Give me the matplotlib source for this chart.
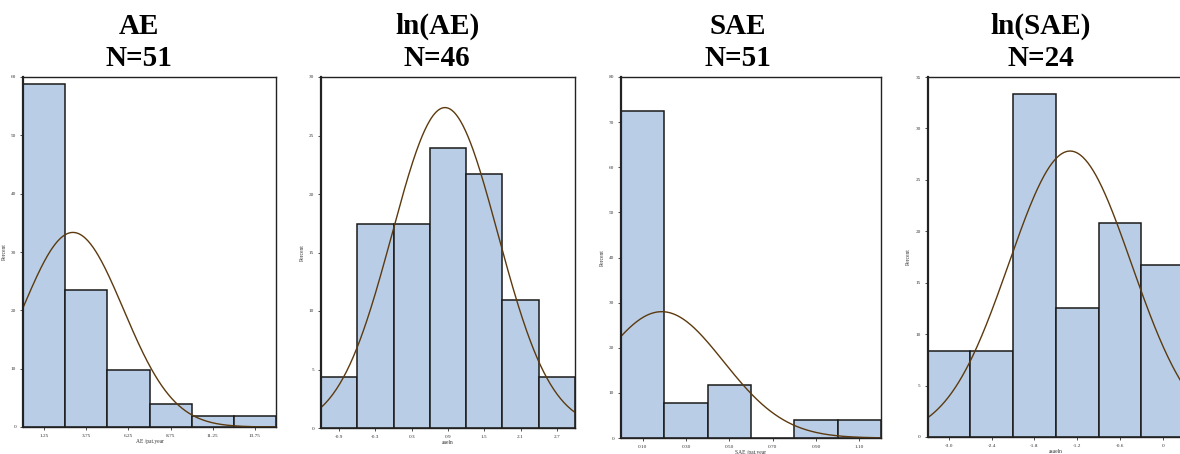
import numpy as np
import matplotlib.pyplot as plt

plt.rcParams["font.family"] = ["Liberation Serif", "DejaVu Serif"]

titles = ["AE\nN=51", "ln(AE)\nN=46", "SAE\nN=51", "ln(SAE)\nN=24"]
xlabels = ["AE /pat.year", "aaeln", "SAE /pat.year", "asaeln"]

# bin midpoints and percent of subjects in each bin
ae_mid = [1.25, 3.75, 6.25, 8.75, 11.25, 13.75]
ae_pct = [58.8, 23.5, 9.8, 3.9, 1.96, 1.96]

lnae_mid = [-0.9, -0.3, 0.3, 0.9, 1.5, 2.1, 2.7]
lnae_pct = [4.35, 17.4, 17.4, 23.9, 21.7, 10.9, 4.35]

sae_mid = [0.10, 0.30, 0.50, 0.70, 0.90, 1.10]
sae_pct = [72.5, 7.8, 11.8, 0.0, 3.9, 3.9]

lnsae_mid = [-3.0, -2.4, -1.8, -1.2, -0.6, 0.0]
lnsae_pct = [8.33, 8.33, 33.3, 12.5, 20.8, 16.7]

ae_ticks = ["1.25", "3.75", "6.25", "8.75", "11.25", "13.75"]
lnae_ticks = ["-0.9", "-0.3", "0.3", "0.9", "1.5", "2.1", "2.7"]
sae_ticks = ["0.10", "0.30", "0.50", "0.70", "0.90", "1.10"]
lnsae_ticks = ["-3.0", "-2.4", "-1.8", "-1.2", "-0.6", "0"]

# fitted normal curve (mean, std)
normal_fit = [(2.96, 2.99), (0.85, 0.874), (0.188, 0.285), (-1.3, 0.861)]

bin_width = [2.5, 0.6, 0.2, 0.6]
y_max = [60, 30, 80, 35]
y_step = [10, 5, 10, 5]

mids = [ae_mid, lnae_mid, sae_mid, lnsae_mid]
pcts = [ae_pct, lnae_pct, sae_pct, lnsae_pct]
ticklabels = [ae_ticks, lnae_ticks, sae_ticks, lnsae_ticks]

W, H = 1180, 454

# axes boxes in pixels: left, right, top, bottom
boxes = [
    (23, 276, 77, 427),
    (321, 575, 77, 428),
    (621, 881, 77, 438),
    (927.7, 1184, 77, 437),
]

title_x = [139, 437, 738, 1041]

fig = plt.figure(figsize=(W / 100, H / 100), dpi=100)

for i in range(4):

    l, r, t, b = boxes[i]

    ax = fig.add_axes([
        l / W,
        (H - b) / H,
        (r - l) / W,
        (b - t) / H
    ])

    w = bin_width[i]
    mid = np.array(mids[i])

    ax.bar(
        mid,
        pcts[i],
        width=w,
        color="#b9cee6",
        edgecolor="#1a1a1a",
        linewidth=1.1
    )

    lo = mid[0] - w / 2
    hi = mid[-1] + w / 2

    mu, sd = normal_fit[i]
    xs = np.linspace(lo, hi, 300)
    ys = 100 * w * np.exp(-(xs - mu) ** 2 / (2 * sd ** 2)) / (sd * np.sqrt(2 * np.pi))

    ax.plot(xs, ys, color="#5c3a0e", linewidth=1.0)

    ax.set_xlim(lo, hi)
    ax.set_ylim(0, y_max[i])

    ax.set_xticks(mid)
    ax.set_xticklabels(ticklabels[i])
    ax.set_yticks(np.arange(0, y_max[i] + 1, y_step[i]))

    ax.tick_params(
        labelsize=3.8,
        length=2,
        width=0.6,
        pad=3,
        colors="#333333"
    )

    ax.set_xlabel(xlabels[i], fontsize=4, color="#333333", labelpad=0.5)
    ax.set_ylabel("Percent", fontsize=4, color="#333333", labelpad=3)

    for s in ax.spines.values():
        s.set_linewidth(1.0)
        s.set_color("#222222")
    ax.spines["left"].set_linewidth(1.6)

    fig.text(
        title_x[i] / W,
        1 - 72 / H,
        titles[i],
        ha="center",
        va="bottom",
        fontsize=21,
        fontweight="bold",
        linespacing=1.25
    )

fig.savefig("out.png", dpi=100)
